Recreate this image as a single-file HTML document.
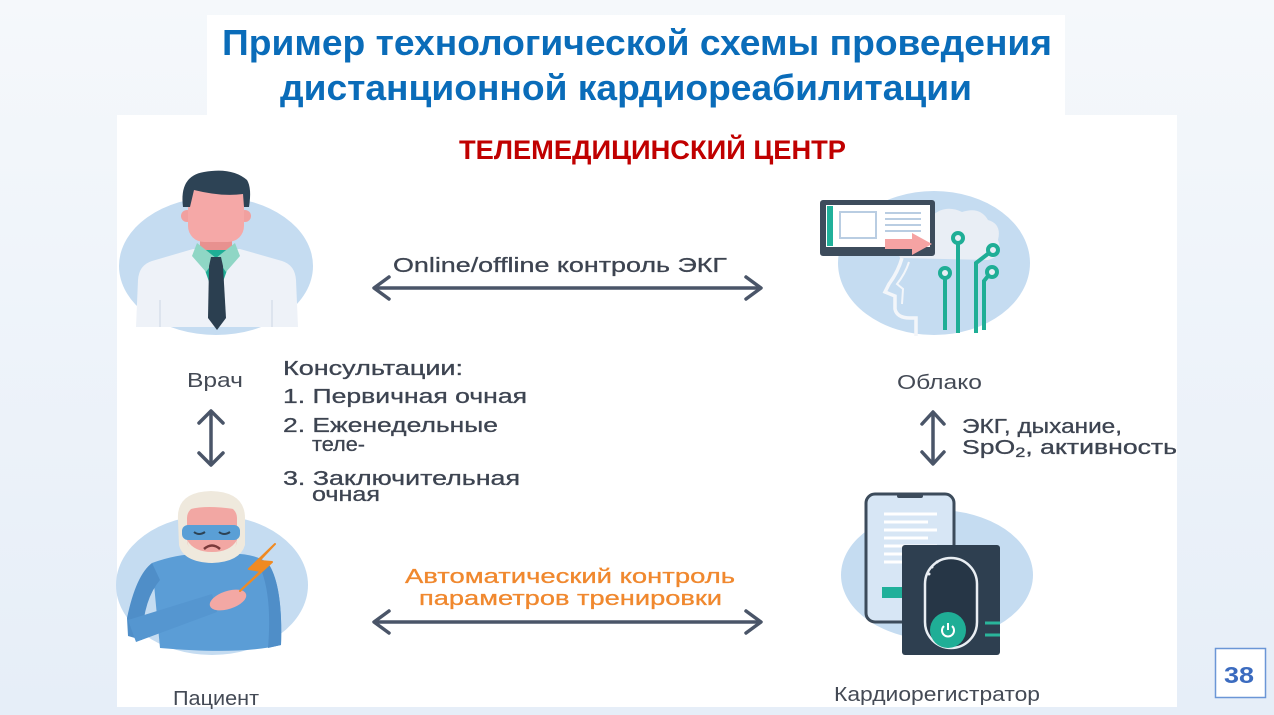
<!DOCTYPE html>
<html>
<head>
<meta charset="utf-8">
<style>
  html,body{margin:0;padding:0;}
  body{width:1274px;height:715px;overflow:hidden;}
  svg{display:block;}
  text{font-family:"Liberation Sans","DejaVu Sans",sans-serif;}
</style>
</head>
<body>
<svg width="1274" height="715" viewBox="0 0 1274 715" xmlns="http://www.w3.org/2000/svg">
  <defs>
    <linearGradient id="bg" x1="0" y1="0" x2="0" y2="1">
      <stop offset="0" stop-color="#f5f8fb"/>
      <stop offset="1" stop-color="#e6eef8"/>
    </linearGradient>
  </defs>
  <rect x="0" y="0" width="1274" height="715" fill="url(#bg)"/>
  <!-- title box & panel -->
  <rect x="207" y="15" width="858" height="101" fill="#ffffff"/>
  <rect x="117" y="115" width="1060" height="592" fill="#ffffff"/>

  <!-- Title -->
  <text x="222" y="55" font-size="36" font-weight="bold" fill="#0a6cb9" textLength="830" lengthAdjust="spacingAndGlyphs">Пример технологической схемы проведения</text>
  <text x="280" y="100" font-size="36" font-weight="bold" fill="#0a6cb9" textLength="692" lengthAdjust="spacingAndGlyphs">дистанционной кардиореабилитации</text>

  <text x="459" y="159" font-size="27" font-weight="bold" fill="#c00000" textLength="387" lengthAdjust="spacingAndGlyphs">ТЕЛЕМЕДИЦИНСКИЙ ЦЕНТР</text>

  <!-- ============ Doctor ============ -->
  <ellipse cx="216" cy="266" rx="97" ry="69" fill="#c5dcf1"/>
  <path d="M193,249 L152,261 Q139,265 138,280 L136,327 L298,327 L296,280 Q295,265 282,261 L240,249 Z" fill="#eef2f8"/>
  <path d="M160,300 L160,327 M272,300 L272,327" stroke="#dde4ee" stroke-width="2"/>
  <rect x="200" y="226" width="32" height="30" fill="#e8918f"/>
  <polygon points="198,250 234,250 216,302" fill="#1fae96"/>
  <polygon points="197,243 216,258 206,272 192,256" fill="#8fd6c5"/>
  <polygon points="235,243 216,258 226,272 240,256" fill="#8fd6c5"/>
  <polygon points="211,257 221,257 223,266 209,266" fill="#2b3f50"/>
  <polygon points="209,266 223,266 226,318 217,330 208,318" fill="#2b3f50"/>
  <circle cx="187" cy="216" r="6" fill="#f1a09f"/>
  <circle cx="245" cy="216" r="6" fill="#f1a09f"/>
  <rect x="188" y="184" width="56" height="58" rx="16" fill="#f5a8a7"/>
  <path d="M183,207 Q179,176 204,172 Q232,167 247,180 Q252,188 249,207 L244,207 L243,194 Q222,197 194,190 L190,207 Z" fill="#2d4355"/>

  <!-- ============ Cloud / brain ============ -->
  <ellipse cx="934" cy="263" rx="96" ry="72" fill="#c5dcf1"/>
  <path d="M900,258 Q893,240 910,232 Q912,214 932,216 Q945,204 962,212 Q980,206 988,220 Q1002,224 998,240 Q1004,256 988,260 Z" fill="#e9eef5"/>
  <path d="M902,258 Q898,272 889,284 L885,292 L895,296 L895,309 Q897,318 910,318 L916,318 L916,336" fill="none" stroke="#f3f6fa" stroke-width="3.5"/>
  <path d="M909,262 Q905,274 897,284 L903,289 L902,304" fill="none" stroke="#f3f6fa" stroke-width="2"/>
  <!-- monitor -->
  <rect x="820" y="200" width="115" height="56" rx="3" fill="#3d4c5c"/>
  <rect x="826" y="205" width="104" height="42" fill="#ffffff"/>
  <rect x="827" y="206" width="6" height="40" fill="#20b09a"/>
  <rect x="840" y="212" width="36" height="26" fill="none" stroke="#b9cde2" stroke-width="2"/>
  <g stroke="#b9cde2" stroke-width="2">
    <line x1="885" y1="213" x2="921" y2="213"/>
    <line x1="885" y1="219" x2="921" y2="219"/>
    <line x1="885" y1="225" x2="921" y2="225"/>
    <line x1="885" y1="231" x2="921" y2="231"/>
  </g>
  <polygon points="885,239 912,239 912,233 932,244 912,255 912,249 885,249" fill="#f5a3a3"/>
  <!-- circuits -->
  <g stroke="#1fae96" stroke-width="4" fill="none">
    <line x1="958" y1="243" x2="958" y2="333"/>
    <path d="M989,253 L976,263 L976,333"/>
    <line x1="945" y1="278" x2="945" y2="330"/>
    <path d="M988,276 L984,281 L984,330"/>
    <circle cx="958" cy="238" r="5" fill="#e9eef5"/>
    <circle cx="993" cy="250" r="5" fill="#e9eef5"/>
    <circle cx="945" cy="273" r="5" fill="#e9eef5"/>
    <circle cx="992" cy="272" r="5" fill="#e9eef5"/>
  </g>

  <!-- ============ Patient ============ -->
  <ellipse cx="212" cy="585" rx="96" ry="70" fill="#c5dcf1"/>
  <path d="M152,563 Q185,551 213,555 Q250,550 268,563 Q283,585 281,645 Q240,655 160,648 Z" fill="#5b9dd6"/>
  <path d="M268,563 Q283,585 281,645 L268,648 Q272,600 262,572 Z" fill="#4f8ec8"/>
  <path d="M152,563 Q136,575 127,618 L128,636 L142,640 Q143,600 160,580 Z" fill="#4f8ec8"/>
  <path d="M128,620 L212,594 L217,612 L136,642 Z" fill="#5596d0"/>
  <ellipse cx="228" cy="600" rx="19" ry="9" transform="rotate(-18 228 600)" fill="#f3a8a4"/>
  <!-- head -->
  <path d="M178,520 Q176,492 211,491 Q246,492 245,520 L245,545 Q240,562 212,563 Q183,562 179,545 Z" fill="#efe9dd"/>
  <rect x="187" y="506" width="50" height="46" rx="12" fill="#f2a7a3"/>
  <path d="M187,540 Q190,560 212,562 Q234,560 237,540 Q230,552 212,552 Q194,552 187,540 Z" fill="#efe9dd"/>
  <path d="M183,512 Q200,503 240,510 L241,504 Q215,494 182,504 Z" fill="#efe9dd"/>
  <rect x="182" y="525" width="58" height="15" rx="6" fill="#5a9fd6"/>
  <path d="M194,532 Q199,536 205,532 M219,532 Q224,536 230,532" stroke="#2d4355" stroke-width="2" fill="none"/>
  <path d="M204,549 Q212,542 220,549" stroke="#7a3a3a" stroke-width="2.5" fill="none"/>
  <!-- lightning -->
  <polygon points="275,544 249,569 261,571 240,591 272,562 259,561" fill="#f08a22" stroke="#f08a22" stroke-width="2" stroke-linejoin="round"/>

  <!-- ============ Device ============ -->
  <ellipse cx="937" cy="575" rx="96" ry="65" fill="#c5dcf1"/>
  <rect x="866" y="494" width="88" height="128" rx="9" fill="#d7e6f5" stroke="#3c4b5b" stroke-width="3"/>
  <rect x="897" y="494" width="26" height="4" rx="2" fill="#3c4b5b"/>
  <g stroke="#ffffff" stroke-width="3">
    <line x1="884" y1="514" x2="937" y2="514"/>
    <line x1="884" y1="522" x2="928" y2="522"/>
    <line x1="884" y1="530" x2="937" y2="530"/>
    <line x1="884" y1="538" x2="928" y2="538"/>
    <line x1="884" y1="546" x2="937" y2="546"/>
    <line x1="884" y1="554" x2="920" y2="554"/>
    <line x1="884" y1="562" x2="920" y2="562"/>
  </g>
  <rect x="882" y="587" width="24" height="11" fill="#20b09a"/>
  <rect x="902" y="545" width="98" height="110" rx="3" fill="#2e3f50"/>
  <rect x="925" y="558" width="52" height="90" rx="26" fill="#263646" stroke="#e9eef3" stroke-width="2.5"/>
  <g fill="#e9eef3">
    <circle cx="929" cy="574" r="1.5"/>
    <circle cx="932" cy="567" r="1.5"/>
    <circle cx="937" cy="562" r="1.5"/>
  </g>
  <circle cx="948" cy="630" r="18" fill="#1fae96"/>
  <path d="M944,626 A6,6 0 1 0 952,626" stroke="#ffffff" stroke-width="2" fill="none"/>
  <line x1="948" y1="623" x2="948" y2="630" stroke="#ffffff" stroke-width="2"/>
  <line x1="985" y1="623" x2="1000" y2="623" stroke="#2ab59b" stroke-width="3"/>
  <line x1="985" y1="635" x2="1000" y2="635" stroke="#2ab59b" stroke-width="3"/>

  <!-- ============ Arrows ============ -->
  <g stroke="#4a5568" stroke-width="3.5" fill="none" stroke-linecap="round" stroke-linejoin="round">
    <line x1="375" y1="288" x2="760" y2="288"/>
    <path d="M389,277 L374,288 L389,299"/>
    <path d="M746,277 L761,288 L746,299"/>
    <line x1="375" y1="622" x2="760" y2="622"/>
    <path d="M389,611 L374,622 L389,633"/>
    <path d="M746,611 L761,622 L746,633"/>
    <line x1="211" y1="412" x2="211" y2="463"/>
    <path d="M199,423 L211,411 L223,423"/>
    <path d="M199,453 L211,465 L223,453"/>
    <line x1="933" y1="413" x2="933" y2="462"/>
    <path d="M922,424 L933,412 L944,424"/>
    <path d="M922,452 L933,464 L944,452"/>
  </g>

  <!-- ============ Texts ============ -->
  <g fill="#3d4451" stroke="#3d4451" stroke-width="0.3" font-size="20.5">
    <text x="393" y="272" textLength="334" lengthAdjust="spacingAndGlyphs">Online/offline контроль ЭКГ</text>
    <text x="283" y="375" textLength="180" lengthAdjust="spacingAndGlyphs">Консультации:</text>
    <text x="283" y="403" textLength="244" lengthAdjust="spacingAndGlyphs">1. Первичная очная</text>
    <text x="283" y="432" textLength="215" lengthAdjust="spacingAndGlyphs">2. Еженедельные</text>
    <text x="312" y="451" textLength="53" lengthAdjust="spacingAndGlyphs">теле-</text>
    <text x="283" y="485" textLength="237" lengthAdjust="spacingAndGlyphs">3. Заключительная</text>
    <text x="312" y="501" textLength="68" lengthAdjust="spacingAndGlyphs">очная</text>
    <text x="962" y="433" textLength="160" lengthAdjust="spacingAndGlyphs">ЭКГ, дыхание,</text>
    <text x="962" y="454" textLength="215" lengthAdjust="spacingAndGlyphs">SpO<tspan font-size="14" dy="3">2</tspan><tspan dy="-3">, активность</tspan></text>
  </g>
  <g fill="#f0882e" stroke="#f0882e" stroke-width="0.3" font-size="20.5">
    <text x="405" y="583" textLength="330" lengthAdjust="spacingAndGlyphs">Автоматический контроль</text>
    <text x="419" y="605" textLength="303" lengthAdjust="spacingAndGlyphs">параметров тренировки</text>
  </g>
  <g fill="#444a55" font-size="20">
    <text x="187" y="387" textLength="56" lengthAdjust="spacingAndGlyphs">Врач</text>
    <text x="897" y="389" textLength="85" lengthAdjust="spacingAndGlyphs">Облако</text>
    <text x="173" y="705" textLength="86" lengthAdjust="spacingAndGlyphs">Пациент</text>
    <text x="834" y="701" textLength="206" lengthAdjust="spacingAndGlyphs">Кардиорегистратор</text>
  </g>

  <!-- page number -->
  <rect x="1215.5" y="648.5" width="50" height="49" fill="#ffffff" stroke="#6b96d6" stroke-width="1.5"/>
  <text x="1224" y="683" font-size="23" font-weight="bold" fill="#3b6bbf" textLength="30" lengthAdjust="spacingAndGlyphs">38</text>
</svg>
</body>
</html>
